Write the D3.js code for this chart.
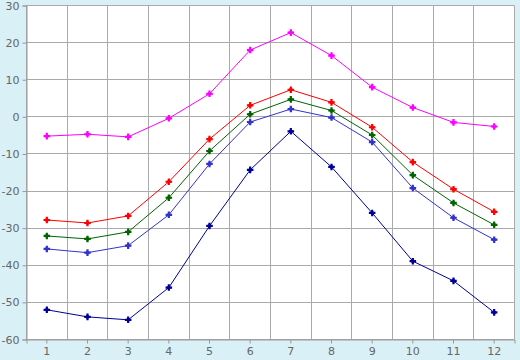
<!DOCTYPE html>
<html><head><meta charset="utf-8">
<script src="https://cdn.jsdelivr.net/npm/d3@7"></script>
<style>
html,body{margin:0;padding:0;background:#daf0f7;}
svg{display:block;}
text{font-family:"DejaVu Sans",Verdana,sans-serif;font-size:11px;fill:#666;}
</style></head><body>
<svg id="c" width="520" height="360"></svg>
<script>
const months = [1,2,3,4,5,6,7,8,9,10,11,12];
const yTicks = [-60,-50,-40,-30,-20,-10,0,10,20,30];
const seriesMagenta = [-5.2,-4.7,-5.4,-0.4,6.2,18.0,22.7,16.5,8.0,2.5,-1.5,-2.6];
const seriesRed = [-27.8,-28.6,-26.7,-17.5,-6.0,3.1,7.3,3.9,-2.8,-12.2,-19.5,-25.6];
const seriesGreen = [-32.1,-32.9,-31.0,-21.8,-9.2,0.7,4.7,1.7,-4.9,-15.7,-23.2,-29.1];
const seriesBlue = [-35.6,-36.6,-34.7,-26.4,-12.7,-1.4,2.1,-0.2,-6.8,-19.2,-27.2,-33.1];
const seriesNavy = [-52.0,-53.9,-54.7,-46.0,-29.4,-14.3,-3.9,-13.5,-25.9,-38.9,-44.2,-52.7];
const seriesColors = ["#ff00ff","#ff0000","#006400","#3333cc","#000099"];
const allSeries = [seriesMagenta,seriesRed,seriesGreen,seriesBlue,seriesNavy];

const L=26.5, R=514.5, T=5.5, B=339.5;
const svg = d3.select("#c");
const x = d3.scaleBand().domain(months).range([L,R]);
const y = d3.scaleLinear().domain([-60,30]).range([B,T]);

svg.append("rect").attr("x",L).attr("y",T).attr("width",R-L).attr("height",B-T).attr("fill","#fff");

const g = svg.append("g");
g.selectAll(".hg").data(yTicks).enter().append("line")
 .attr("x1",L).attr("x2",R).attr("y1",d=>Math.round(y(d)-0.5)+0.5).attr("y2",d=>Math.round(y(d)-0.5)+0.5)
 .attr("stroke","#aaa").attr("stroke-width",1);
const edges = months.map(m=>x(m)).concat([R]);
g.selectAll(".vg").data(edges).enter().append("line")
 .attr("x1",d=>Math.round(d-0.5)+0.5).attr("x2",d=>Math.round(d-0.5)+0.5).attr("y1",T).attr("y2",B)
 .attr("stroke","#aaa").attr("stroke-width",1);

const fmt = d => String(d);
const yAxis = d3.axisLeft(y).tickValues(yTicks).tickFormat(fmt).tickSize(4).tickPadding(3);
const ya = svg.append("g").attr("transform",`translate(${L},0)`).call(yAxis);
ya.select(".domain").attr("stroke","#999");
ya.selectAll(".tick line").attr("stroke","#999");
ya.selectAll(".tick text").style("fill","#666").style("font-family","DejaVu Sans").style("font-size","11px");

const xAxis = d3.axisBottom(x).tickSize(4).tickPadding(4);
const xa = svg.append("g").attr("transform",`translate(0,${B})`).call(xAxis);
xa.select(".domain").attr("stroke","#999");
xa.selectAll(".tick line").attr("stroke","#999");
xa.selectAll(".tick text").style("fill","#666").style("font-family","DejaVu Sans").style("font-size","11px");

const cx = m => x(m)+x.bandwidth()/2;
const line = d3.line().x((d,i)=>cx(months[i])).y(d=>y(d));
const cross = d3.symbol().type(d3.symbolCross).size(24);
const dia = d3.symbol().type(d3.symbolSquare).size(14);
allSeries.forEach((s,k)=>{
  svg.append("path").attr("d",line(s)).attr("fill","none").attr("stroke",seriesColors[k]).attr("stroke-width",1);
  const m = svg.selectAll(null).data(s).enter().append("g")
    .attr("transform",(d,i)=>`translate(${cx(months[i])},${y(d)})`).attr("fill",seriesColors[k]);
  m.append("path").attr("d",cross);
  m.append("path").attr("d",dia).attr("transform","rotate(45)");
});
</script></body></html>
